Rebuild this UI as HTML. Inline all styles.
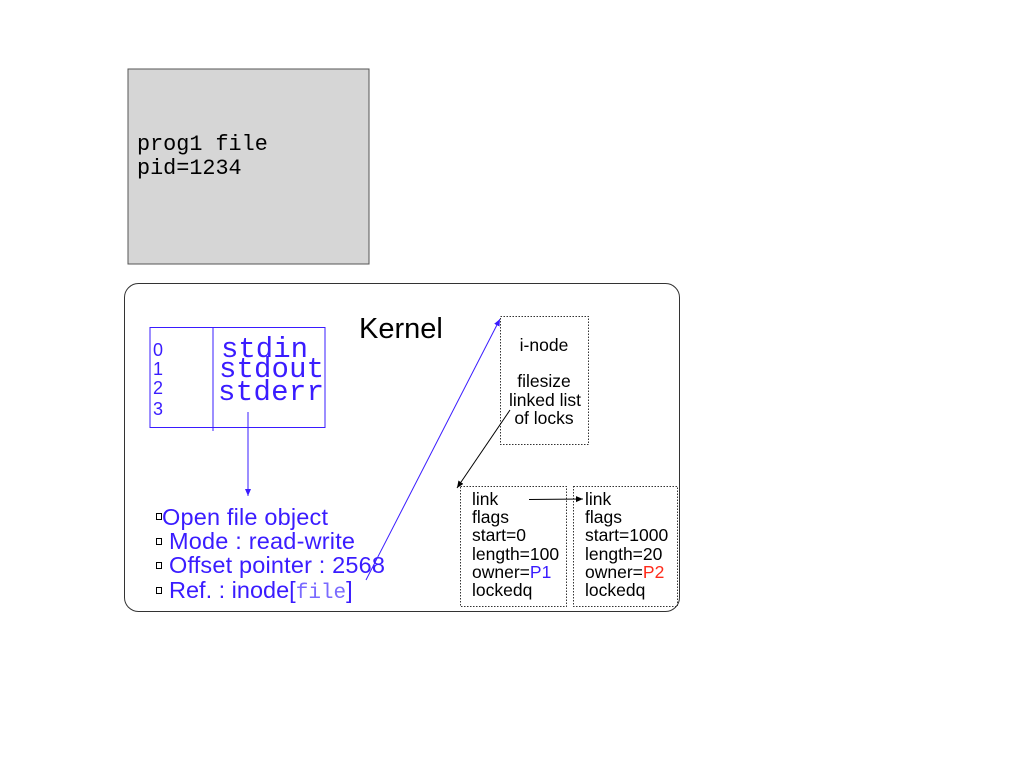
<!DOCTYPE html>
<html><head><meta charset="utf-8"><style>
html,body{margin:0;padding:0;background:#fff;}
svg{display:block;}
</style></head><body>
<svg width="1024" height="768" xmlns="http://www.w3.org/2000/svg">
<defs>
<marker id="ab" markerWidth="8" markerHeight="8" refX="7" refY="4" orient="auto" markerUnits="userSpaceOnUse"><path d="M0,1 L7,4 L0,7 z" fill="#3a1cff"/></marker>
<marker id="ak" markerWidth="8" markerHeight="8" refX="7" refY="4" orient="auto" markerUnits="userSpaceOnUse"><path d="M0,1 L7,4 L0,7 z" fill="#000"/></marker>
</defs>
<rect x="128" y="69" width="241" height="195" fill="#d6d6d6" stroke="#555" stroke-width="1"/>
<g font-family="Liberation Mono, monospace" font-size="21.8" fill="#000">
<text x="137" y="150">prog1 file</text>
<text x="137" y="174">pid=1234</text>
</g>
<rect x="124.5" y="283.5" width="555" height="328" rx="14" fill="#fff" stroke="#333" stroke-width="1"/>
<text x="359" y="338" font-family="Liberation Sans, sans-serif" font-size="29" fill="#000">Kernel</text>
<rect x="150" y="327.5" width="175" height="100" fill="none" stroke="#3a1cff" stroke-width="1"/>
<line x1="213" y1="327" x2="213" y2="431" stroke="#3a1cff"/>
<g font-family="Liberation Sans, sans-serif" font-size="18" fill="#3a1cff">
<text x="153" y="356">0</text><text x="153" y="375">1</text><text x="153" y="394">2</text><text x="153" y="415">3</text>
</g>
<g font-family="Liberation Mono, monospace" font-size="29" fill="#3a1cff">
<text x="221" y="357" textLength="87">stdin</text><text x="219" y="377" textLength="105">stdout</text><text x="218" y="400" textLength="106">stderr</text>
</g>
<line x1="248" y1="412" x2="248" y2="496" stroke="#3a1cff" marker-end="url(#ab)"/>
<g font-family="Liberation Sans, sans-serif" font-size="23.5" fill="#3a1cff">
<text x="162" y="525" textLength="166">Open file object</text>
<text x="169" y="549" textLength="186">Mode : read-write</text>
<text x="169" y="573" textLength="216">Offset pointer : 2568</text>
<text x="169" y="598">Ref. : inode[<tspan font-family="Liberation Mono, monospace" font-size="21" fill="#7a6aff">file</tspan>]</text>
</g>
<g fill="#fff" stroke="#000" stroke-width="1">
<rect x="156.5" y="513.5" width="5" height="6"/><rect x="156.5" y="538.5" width="5" height="6"/>
<rect x="156.5" y="562.5" width="5" height="6"/><rect x="156.5" y="587.5" width="5" height="6"/>
</g>
<line x1="366" y1="580" x2="500" y2="319" stroke="#3a1cff" marker-end="url(#ab)"/>
<rect x="500.5" y="316.5" width="88" height="128" fill="none" stroke="#333" stroke-dasharray="1.5,1.5"/>
<g font-family="Liberation Sans, sans-serif" font-size="17.5" fill="#000" text-anchor="middle">
<text x="544" y="351">i-node</text><text x="544" y="387">filesize</text>
<text x="545" y="406">linked list</text><text x="544" y="424">of locks</text>
</g>
<line x1="510" y1="410" x2="457" y2="488" stroke="#000" marker-end="url(#ak)"/>
<rect x="460.5" y="486.5" width="106" height="120" fill="none" stroke="#333" stroke-dasharray="1.5,1.5"/>
<rect x="573.5" y="486.5" width="104" height="120" fill="none" stroke="#333" stroke-dasharray="1.5,1.5"/>
<g font-family="Liberation Sans, sans-serif" font-size="17.5" fill="#000">
<text x="472" y="505">link</text><text x="472" y="523">flags</text><text x="472" y="541">start=0</text>
<text x="472" y="560">length=100</text><text x="472" y="578">owner=<tspan fill="#3a1cff">P1</tspan></text><text x="472" y="596">lockedq</text>
<text x="585" y="505">link</text><text x="585" y="523">flags</text><text x="585" y="541">start=1000</text>
<text x="585" y="560">length=20</text><text x="585" y="578">owner=<tspan fill="#ff2a1a">P2</tspan></text><text x="585" y="596">lockedq</text>
</g>
<line x1="529" y1="499.5" x2="583" y2="499" stroke="#000" marker-end="url(#ak)"/>
</svg>
</body></html>
